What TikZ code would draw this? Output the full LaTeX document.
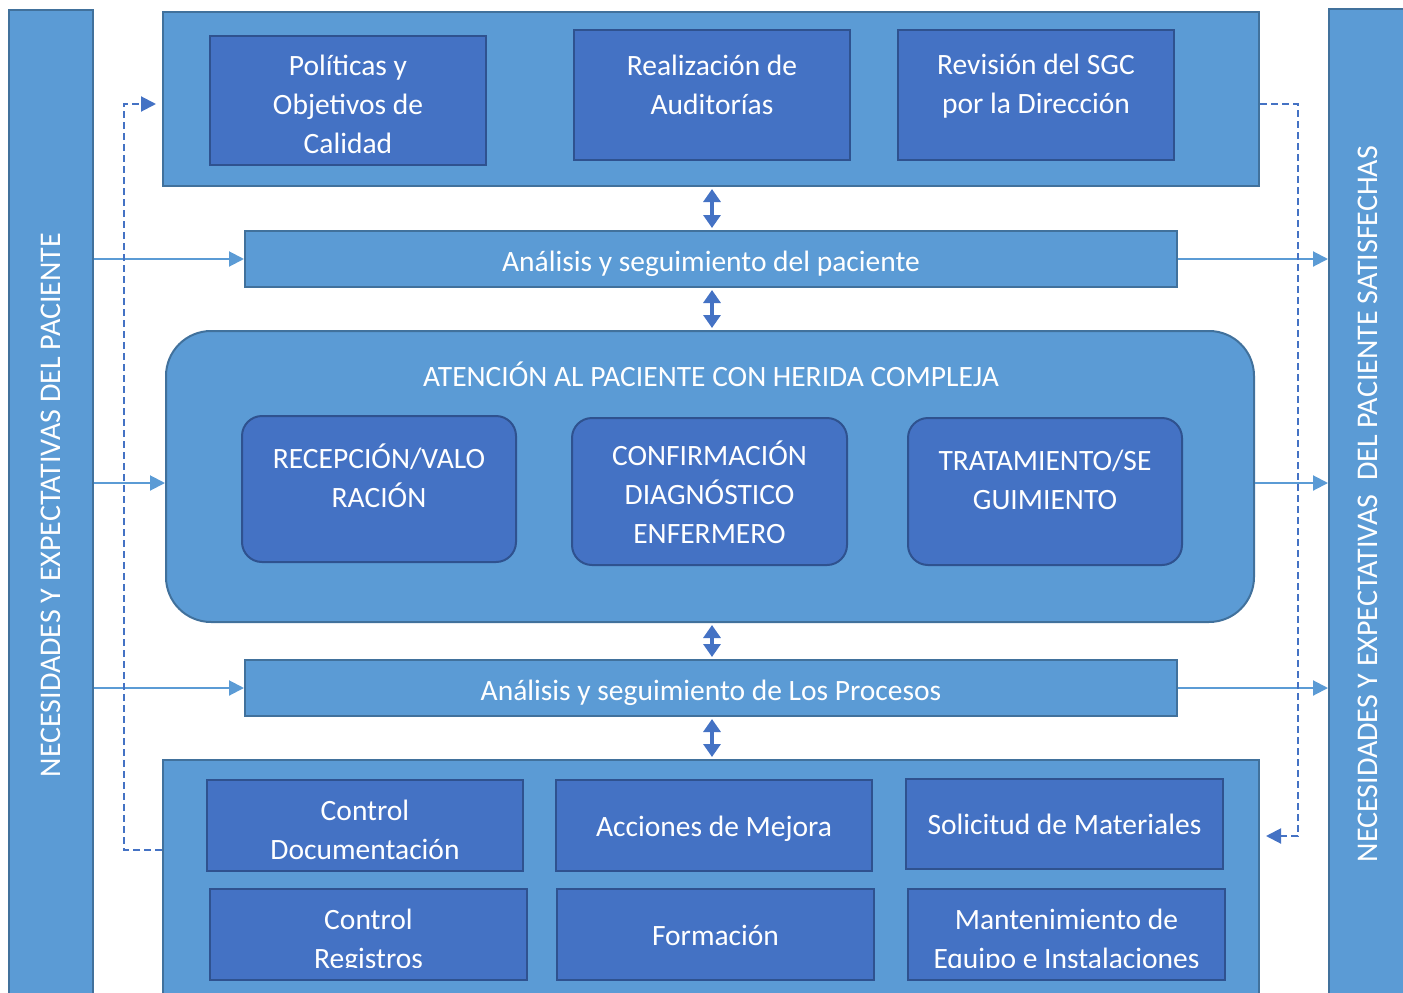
\documentclass[tikz,border=0pt]{standalone}
\usepackage{fontspec}
\setmainfont{Carlito}
\usetikzlibrary{arrows.meta}
\definecolor{lb}{HTML}{5B9BD5}
\definecolor{lbd}{HTML}{41719C}
\definecolor{db}{HTML}{4472C4}
\definecolor{dbd}{HTML}{2F528F}
\begin{document}
\begin{tikzpicture}[x=1pt,y=-1pt,
  outer/.style={draw=lbd,fill=lb,line width=2pt,inner sep=0pt},
  inner/.style={draw=dbd,fill=db,line width=2pt,inner sep=0pt},
  txt/.style={text=white,align=center,inner sep=0pt,font=\fontsize{29.5}{39}\selectfont},
  vtxt/.style={text=white,align=center,inner sep=0pt,rotate=90,font=\fontsize{30}{34}\selectfont},
  dbl/.style={draw=db,line width=4.5pt,{Triangle[width=17pt,length=13pt]}-{Triangle[width=17pt,length=13pt]},shorten <=2pt,shorten >=2pt},
  sarr/.style={draw=lb,line width=2pt,-{Triangle[width=15pt,length=15pt]}},
  dsh/.style={draw=db,line width=2pt,dash pattern=on 7pt off 4pt,-{Triangle[width=15pt,length=15pt]}}
]
\useasboundingbox (0,0) rectangle (1403,993);
\clip (0,0) rectangle (1403,993);
% side bars
\node[outer,minimum width=84pt,minimum height=1000pt] (lbar) at (51,510) {};
\node[outer,minimum width=81pt,minimum height=1000pt] (rbar) at (1369.5,509) {};
\node[vtxt] (lbl) at (51,505) {NECESIDADES Y EXPECTATIVAS DEL PACIENTE};
\node[vtxt] (rbl) at (1368,504) {NECESIDADES Y EXPECTATIVAS \ DEL PACIENTE SATISFECHAS};
% top box
\node[outer,minimum width=1096pt,minimum height=174pt] (top) at (711,99) {};
\node[inner,minimum width=276pt,minimum height=129pt] (pol) at (348,100.5) {};
\node[inner,minimum width=276pt,minimum height=130pt] (rea) at (712,95) {};
\node[inner,minimum width=276pt,minimum height=130pt] (rev) at (1036,95) {};
\node[txt] (polt) at (348,104) {Políticas y\\Objetivos de\\Calidad};
\node[txt] (reat) at (712,84.5) {Realización de\\Auditorías};
\node[txt] (revt) at (1036,86.5) {Revisión del SGC\\por la Dirección};
% bands
\node[outer,minimum width=932pt,minimum height=56pt] (apac) at (711,259) {};
\node[txt] (apact) at (711,264) {Análisis y seguimiento del paciente};
\node[outer,minimum width=932pt,minimum height=56pt] (apro) at (711,688) {};
\node[txt] (aprot) at (711,693) {Análisis y seguimiento de Los Procesos};
% central rounded box
\node[outer,rounded corners=45pt,minimum width=1088pt,minimum height=291pt] (aten) at (710,476.5) {};
\node[txt] (atent) at (711,374) {ATENCIÓN AL PACIENTE CON HERIDA COMPLEJA};
\node[inner,rounded corners=20pt,minimum width=274pt,minimum height=146pt] (rec) at (379,489) {};
\node[inner,rounded corners=20pt,minimum width=275pt,minimum height=147pt] (conf) at (709.5,491.5) {};
\node[inner,rounded corners=20pt,minimum width=274pt,minimum height=147pt] (trat) at (1045,491.5) {};
\node[txt] (rect) at (379,476) {RECEPCIÓN/VALO\\RACIÓN};
\node[txt] (conft) at (709.5,492) {CONFIRMACIÓN\\DIAGNÓSTICO\\ENFERMERO};
\node[txt] (tratt) at (1045,479.5) {TRATAMIENTO/SE\\GUIMIENTO};
% bottom box
\node[outer,minimum width=1096pt,minimum height=250pt] (bot) at (711,885) {};
\node[inner,minimum width=316pt,minimum height=91pt] (cdoc) at (365,825.5) {};
\node[inner,minimum width=316pt,minimum height=91pt] (acc) at (714,825.5) {};
\node[inner,minimum width=317pt,minimum height=90pt] (sol) at (1064.5,824) {};
\node[inner,minimum width=317pt,minimum height=91pt] (creg) at (368.5,934.5) {};
\node[inner,minimum width=317pt,minimum height=91pt] (form) at (715.5,934.5) {};
\node[inner,minimum width=317pt,minimum height=91pt] (mant) at (1066.5,934.5) {};
\node[txt] (cdoct) at (365,829.5) {Control\\Documentación};
\node[txt] (acct) at (714,829) {Acciones de Mejora};
\node[txt] (solt) at (1064.5,824) {Solicitud de Materiales};
\node[txt] (formt) at (715.5,935) {Formación};
\begin{scope}
\clip (150,880) rectangle (1250,967);
\node[txt] (cregt) at (368.5,941.5) {Control\\Registros};
\node[txt] (mantt) at (1066.5,941.5) {Mantenimiento de\\Equipo e Instalaciones};
\end{scope}
% double arrows
\draw[dbl] (rea.south |- top.south) -- (rea.south |- apac.north);
\draw[dbl] (rea.south |- apac.south) -- (rea.south |- aten.north);
\draw[dbl] (rea.south |- aten.south) -- (rea.south |- apro.north);
\draw[dbl] (rea.south |- apro.south) -- (rea.south |- bot.north);
% side arrows
\coordinate (y483) at (0,483);
\draw[sarr] (lbar.east |- apac.west) -- (apac.west);
\draw[sarr] (lbar.east |- y483) -- (aten.west |- y483);
\draw[sarr] (lbar.east |- apro.west) -- (apro.west);
\draw[sarr] (apac.east) -- (rbar.west |- apac.east);
\draw[sarr] (aten.east |- y483) -- (rbar.west |- y483);
\draw[sarr] (apro.east) -- (rbar.west |- apro.east);
% dashed feedback loops
\coordinate (dl1) at (124,850);
\coordinate (dl2) at (124,104);
\coordinate (dr1) at (1298,104);
\coordinate (dr2) at (1298,836);
\draw[dsh,shorten >=6pt] (bot.west |- dl1) -- (dl1) -- (dl2) -- (top.west |- dl2);
\draw[dsh,shorten >=6pt] (top.east |- dr1) -- (dr1) -- (dr2) -- (bot.east |- dr2);
\end{tikzpicture}
\end{document}
